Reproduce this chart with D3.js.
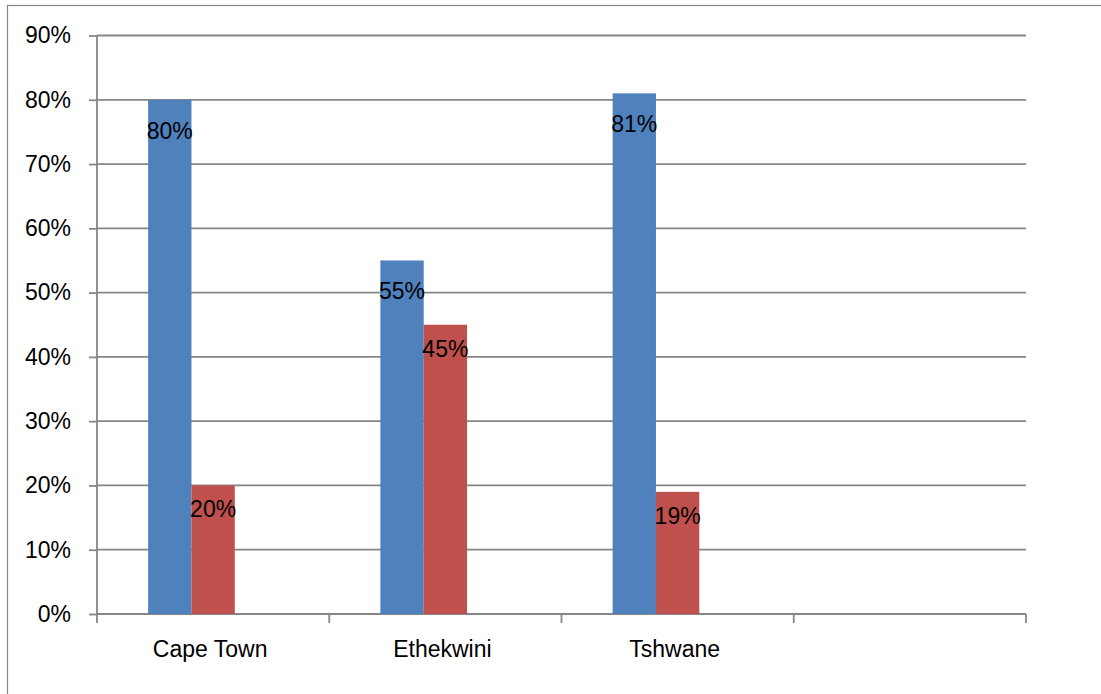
<!DOCTYPE html>
<html>
<head>
<meta charset="utf-8">
<script src="https://cdn.jsdelivr.net/npm/d3@7/dist/d3.min.js"></script>
<style>
  html, body { margin: 0; padding: 0; background: #fff; }
  svg { display: block; }
  text { font-family: "Liberation Sans", Arial, sans-serif; fill: #000; }
</style>
</head>
<body>
<script>
// Municipalities along the category axis (the last slot is left empty)
const categories = ["Cape Town", "Ethekwini", "Tshwane", ""];
// Two response series, one value per municipality (fractions)
const seriesBlue = [0.80, 0.55, 0.81];
const seriesRed  = [0.20, 0.45, 0.19];
// Series slots within each category (the third slot holds no bars)
const seriesKeys = ["blue", "red", "spare"];
// Value-axis ticks
const yTicks = [0, 0.1, 0.2, 0.3, 0.4, 0.5, 0.6, 0.7, 0.8, 0.9];

const W = 1101, H = 694;
const plot = { left: 97, right: 1026, top: 35.5, bottom: 614 };
const axisColor = "#868686";
const colors = { blue: "#4F81BD", red: "#C0504D" };
const fontSize = "23px";

const svg = d3.select("body").append("svg")
  .attr("width", W).attr("height", H);

// Outer chart frame
svg.append("rect")
  .attr("x", 7.5).attr("y", 5.5)
  .attr("width", W + 10).attr("height", H + 10)
  .attr("fill", "none").attr("stroke", axisColor).attr("stroke-width", 1.2);

const y = d3.scaleLinear().domain([0, 0.9]).range([plot.bottom, plot.top]);
const x = d3.scaleBand().domain(categories.map((c, i) => i))
  .range([plot.left, plot.right]).paddingInner(0).paddingOuter(0);
const xs = d3.scaleBand().domain(seriesKeys)
  .range([0, x.bandwidth()]).paddingInner(0).paddingOuter(1.18);

// Horizontal gridlines
svg.append("g").selectAll("line").data(yTicks.slice(1)).join("line")
  .attr("x1", plot.left).attr("x2", plot.right)
  .attr("y1", d => y(d)).attr("y2", d => y(d))
  .attr("stroke", axisColor).attr("stroke-width", 1.8);

// Value axis
const yAxis = d3.axisLeft(y).tickValues(yTicks)
  .tickFormat(d3.format(".0%")).tickSize(8).tickPadding(18);
const gy = svg.append("g").attr("transform", `translate(${plot.left},0)`).call(yAxis);
gy.select(".domain").attr("stroke", axisColor).attr("stroke-width", 1.8)
  .attr("d", `M0,${plot.top}V${plot.bottom}`);
gy.selectAll(".tick line").attr("stroke", axisColor).attr("stroke-width", 1.8);
gy.selectAll(".tick text").style("font-size", fontSize).attr("fill", "#000")
  .style("font-family", "'Liberation Sans', Arial, sans-serif");

// Category axis: ticks at slot boundaries, labels centred in each slot
const gx = svg.append("g");
gx.append("line")
  .attr("x1", plot.left).attr("x2", plot.right)
  .attr("y1", plot.bottom).attr("y2", plot.bottom)
  .attr("stroke", axisColor).attr("stroke-width", 1.8);
const bounds = categories.map((c, i) => x(i)).concat([x(categories.length - 1) + x.bandwidth()]);
gx.selectAll("line.tk").data(bounds).join("line").attr("class", "tk")
  .attr("x1", d => d).attr("x2", d => d)
  .attr("y1", plot.bottom).attr("y2", plot.bottom + 9)
  .attr("stroke", axisColor).attr("stroke-width", 1.8);
gx.selectAll("text").data(categories).join("text")
  .attr("x", (d, i) => x(i) + x.bandwidth() / 2 - 3)
  .attr("y", 657)
  .attr("text-anchor", "middle")
  .style("font-size", fontSize)
  .text(d => d);

// Bars and inside-end value labels
const series = [
  { key: "blue", values: seriesBlue, labelOffset: 39 },
  { key: "red", values: seriesRed, labelOffset: 32 }
];
const pct = d3.format(".0%");
series.forEach(s => {
  const g = svg.append("g");
  g.selectAll("rect").data(s.values).join("rect")
    .attr("x", (d, i) => x(i) + xs(s.key))
    .attr("width", xs.bandwidth())
    .attr("y", d => y(d))
    .attr("height", d => y(0) - y(d))
    .attr("fill", colors[s.key]);
  g.selectAll("text").data(s.values).join("text")
    .attr("x", (d, i) => x(i) + xs(s.key) + xs.bandwidth() / 2)
    .attr("y", d => y(d) + s.labelOffset)
    .attr("text-anchor", "middle")
    .style("font-size", fontSize)
    .text(d => pct(d));
});
</script>
</body>
</html>
